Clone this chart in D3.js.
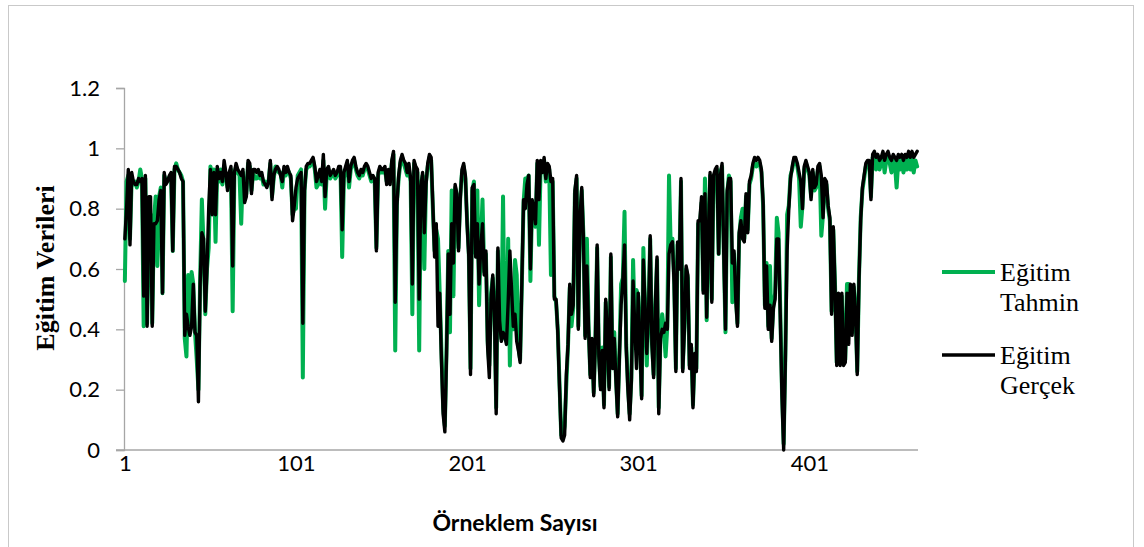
<!DOCTYPE html>
<html>
<head>
<meta charset="utf-8">
<script src="https://cdn.jsdelivr.net/npm/d3@7/dist/d3.min.js"></script>
<style>
  html, body { margin: 0; padding: 0; background: #fff; }
  svg { display: block; }
</style>
</head>
<body>
<svg id="chart" width="1144" height="547"></svg>
<script>
// Eğitim verileri: gerçek değerler ve model tahminleri (örnek 1..464)
const gercek = [
  0.70,0.80,0.93,0.68,0.92,0.89,0.88,0.88,0.90,0.89,
  0.90,0.51,0.91,0.41,0.84,0.84,0.41,0.75,0.75,0.76,
  0.83,0.86,0.52,0.92,0.88,0.89,0.91,0.92,0.66,0.94,
  0.94,0.93,0.92,0.90,0.89,0.38,0.45,0.41,0.38,0.41,
  0.55,0.39,0.38,0.16,0.55,0.72,0.70,0.46,0.60,0.80,
  0.93,0.78,0.92,0.78,0.94,0.90,0.92,0.89,0.96,0.92,
  0.86,0.92,0.94,0.61,0.92,0.95,0.93,0.92,0.91,0.93,
  0.82,0.84,0.96,0.95,0.85,
  0.93,0.93,0.92,0.93,0.91,0.92,0.89,0.88,0.87,0.89,
  0.96,0.83,0.91,0.93,0.94,0.93,0.91,0.89,0.94,0.92,
  0.94,0.92,0.91,0.76,0.81,0.87,0.90,0.91,0.92,0.42,
  0.86,0.94,0.95,0.95,0.96,0.97,0.94,0.89,0.91,0.93,
  0.89,0.98,0.84,0.93,0.94,0.91,0.92,0.93,0.91,0.92,
  0.94,0.94,0.73,0.92,0.94,0.96,0.89,0.94,0.96,0.97,
  0.94,0.92,0.91,0.93,0.92,0.94,0.95,0.94,0.92,0.90,
  0.91,0.90,0.66,0.92,0.94,0.93,0.93,
  0.94,0.88,0.93,0.88,0.96,0.99,0.49,0.81,0.91,0.96,
  0.98,0.96,0.95,0.92,0.95,0.90,0.55,0.96,0.94,0.93,
  0.50,0.87,0.92,0.72,0.88,0.95,0.98,0.97,0.81,0.64,
  0.75,0.41,0.52,0.30,0.12,0.06,0.32,0.65,0.45,0.75,
  0.62,0.88,0.85,0.66,0.83,0.93,0.95,0.91,0.75,0.64,
  0.25,0.87,0.88,0.64,0.75,0.55,0.67,0.75,0.58,0.66,
  0.34,0.24,0.50,0.58,0.45,0.12,0.67,0.43,0.36,0.39,
  0.38,0.35,0.49,0.66,0.53,0.41,0.45,0.36,
  0.33,0.29,0.56,0.83,0.80,0.88,0.91,0.60,0.83,0.80,
  0.75,0.96,0.83,0.96,0.92,0.97,0.90,0.95,0.94,0.89,
  0.90,0.50,0.50,0.39,0.21,0.04,0.03,0.05,0.25,0.35,
  0.55,0.45,0.48,0.86,0.91,0.40,0.77,0.87,0.70,0.37,
  0.61,0.40,0.24,0.37,0.18,0.37,0.68,0.31,0.20,0.33,
  0.14,0.50,0.38,0.20,0.65,0.27,0.37,0.23,0.11,0.31,
  0.48,0.56,0.68,0.34,0.20,0.10,0.23,0.56,0.41,0.27,
  0.52,0.35,0.17,0.63,0.48,
  0.32,0.45,0.71,0.35,0.24,0.48,0.64,0.12,0.37,0.40,
  0.39,0.42,0.40,0.65,0.68,0.69,0.55,0.26,0.69,0.60,
  0.90,0.26,0.40,0.61,0.58,0.27,0.35,0.14,0.32,0.26,
  0.76,0.76,0.84,0.52,0.85,0.44,0.72,0.92,0.49,0.91,
  0.93,0.94,0.65,0.91,0.95,0.65,0.40,0.86,0.90,0.90,
  0.62,0.66,0.50,0.41,0.72,0.76,0.70,0.69,0.85,0.72,
  0.89,0.91,0.95,0.97,0.96,0.97,0.96,0.93,0.82,0.47,
  0.61,0.40,0.48,0.36,0.47,0.50,0.70,0.70,0.45,
  0.18,0.00,0.30,0.66,0.80,0.90,0.94,0.97,0.97,0.95,
  0.92,0.89,0.80,0.94,0.96,0.94,0.92,0.83,0.93,0.87,
  0.88,0.94,0.95,0.91,0.77,0.90,0.89,0.81,0.77,0.45,
  0.74,0.54,0.28,0.52,0.28,0.52,0.28,0.29,0.52,0.35,
  0.55,0.38,0.55,0.45,0.25,0.56,0.76,0.87,0.91,0.95,
  0.96,0.96,0.83,0.98,0.99,0.97,0.98,0.96,0.97,0.99,
  0.96,0.98,0.99,0.97,0.96,0.98,0.97,0.96,0.98,0.97,
  0.98,0.96,0.98,0.97,0.99,0.97,0.99,0.97,0.98,0.99
];

const tahmin = [
  0.56,0.89,0.91,0.70,0.90,0.88,0.89,0.87,0.89,0.93,
  0.90,0.41,0.90,0.42,0.80,0.78,0.42,0.76,0.84,0.61,
  0.84,0.87,0.52,0.91,0.89,0.90,0.90,0.91,0.66,0.93,
  0.95,0.93,0.92,0.91,0.89,0.37,0.31,0.58,0.39,0.59,
  0.55,0.39,0.30,0.20,0.57,0.83,0.68,0.45,0.60,0.67,
  0.94,0.91,0.93,0.69,0.93,0.89,0.93,0.88,0.94,0.91,
  0.87,0.91,0.93,0.46,0.91,0.94,0.92,0.91,0.75,0.92,
  0.83,0.85,0.95,0.94,0.86,
  0.92,0.90,0.90,0.91,0.90,0.91,0.88,0.89,0.88,0.89,
  0.95,0.84,0.90,0.94,0.93,0.92,0.92,0.87,0.93,0.91,
  0.93,0.92,0.90,0.78,0.80,0.80,0.91,0.92,0.93,0.24,
  0.86,0.93,0.94,0.94,0.95,0.96,0.93,0.87,0.88,0.92,
  0.88,0.96,0.80,0.92,0.93,0.90,0.91,0.92,0.90,0.91,
  0.93,0.93,0.64,0.90,0.93,0.95,0.87,0.93,0.95,0.96,
  0.93,0.91,0.90,0.92,0.91,0.93,0.94,0.93,0.91,0.89,
  0.90,0.89,0.67,0.91,0.93,0.92,0.92,
  0.93,0.89,0.92,0.89,0.95,0.98,0.33,0.82,0.90,0.95,
  0.97,0.95,0.93,0.91,0.93,0.89,0.45,0.95,0.93,0.92,
  0.33,0.88,0.91,0.60,0.89,0.94,0.97,0.96,0.80,0.66,
  0.73,0.70,0.52,0.33,0.14,0.08,0.34,0.66,0.39,0.86,
  0.51,0.87,0.84,0.67,0.84,0.92,0.94,0.90,0.76,0.65,
  0.27,0.86,0.89,0.65,0.86,0.48,0.68,0.83,0.59,0.65,
  0.36,0.28,0.52,0.57,0.46,0.14,0.66,0.44,0.37,0.84,
  0.37,0.36,0.70,0.28,0.52,0.40,0.63,0.58,
  0.34,0.30,0.55,0.82,0.90,0.90,0.91,0.56,0.82,0.81,
  0.74,0.95,0.68,0.95,0.93,0.96,0.89,0.94,0.93,0.58,
  0.89,0.51,0.49,0.40,0.22,0.05,0.04,0.08,0.22,0.35,
  0.54,0.41,0.47,0.85,0.90,0.41,0.78,0.86,0.71,0.38,
  0.70,0.41,0.25,0.36,0.19,0.38,0.67,0.32,0.21,0.34,
  0.15,0.49,0.39,0.21,0.64,0.28,0.39,0.24,0.12,0.32,
  0.55,0.57,0.79,0.35,0.21,0.12,0.24,0.63,0.42,0.53,
  0.51,0.36,0.18,0.67,0.47,
  0.28,0.46,0.70,0.36,0.25,0.47,0.63,0.14,0.38,0.45,
  0.40,0.31,0.41,0.91,0.67,0.70,0.56,0.27,0.68,0.61,
  0.89,0.27,0.41,0.60,0.57,0.28,0.34,0.15,0.31,0.27,
  0.75,0.74,0.82,0.53,0.90,0.43,0.71,0.91,0.50,0.90,
  0.92,0.93,0.65,0.92,0.94,0.66,0.39,0.85,0.91,0.89,
  0.49,0.65,0.51,0.42,0.71,0.77,0.80,0.70,0.84,0.73,
  0.88,0.90,0.94,0.95,0.94,0.95,0.95,0.92,0.81,0.48,
  0.62,0.41,0.61,0.37,0.48,0.52,0.77,0.72,0.47,
  0.20,0.02,0.32,0.78,0.81,0.91,0.93,0.96,0.96,0.94,
  0.90,0.74,0.81,0.93,0.95,0.93,0.91,0.84,0.92,0.86,
  0.87,0.93,0.94,0.71,0.78,0.89,0.88,0.80,0.76,0.46,
  0.73,0.55,0.29,0.50,0.29,0.51,0.29,0.30,0.55,0.55,
  0.54,0.39,0.54,0.46,0.26,0.57,0.77,0.86,0.90,0.94,
  0.95,0.95,0.84,0.97,0.97,0.93,0.96,0.93,0.95,0.97,
  0.92,0.96,0.97,0.95,0.92,0.96,0.95,0.87,0.96,0.93,
  0.96,0.92,0.96,0.93,0.97,0.93,0.97,0.92,0.96,0.94
];

// Örnek numaraları (kategori ekseni) ve eksen etiketleri
const samples = d3.range(1, gercek.length + 1);
const xTickLabels = [1, 101, 201, 301, 401];
const yTicks = [0, 0.2, 0.4, 0.6, 0.8, 1, 1.2];

const seriesColors = ["#00b050", "#000000"];

if (tahmin.length !== gercek.length) {
  throw new Error("series length mismatch: " + tahmin.length + " vs " + gercek.length);
}

const svg = d3.select("#chart");
const plot = { left: 124, right: 918, top: 88, bottom: 450 };

// Dış çerçeve
svg.append("rect")
  .attr("x", 8.5).attr("y", 5.5)
  .attr("width", 1125).attr("height", 560)
  .attr("fill", "#fff")
  .attr("stroke", "#c9c9c9")
  .attr("stroke-width", 1);

const x = d3.scalePoint()
  .domain(samples)
  .range([plot.left, plot.right])
  .padding(0.5);

const y = d3.scaleLinear()
  .domain([0, 1.2])
  .range([plot.bottom, plot.top]);

const axisColor = "#a6a6a6";
const sansFont = "Lato, 'Open Sans', sans-serif";
const serifFont = "'Liberation Serif', 'DejaVu Serif', serif";

// Y ekseni
const yAxis = svg.append("g")
  .attr("transform", `translate(${plot.left},0)`)
  .call(d3.axisLeft(y).tickValues(yTicks).tickSize(8).tickPadding(16)
    .tickFormat(d => d3.format("")(Math.round(d * 10) / 10)));
yAxis.select(".domain").attr("stroke", axisColor).attr("stroke-width", 1.3);
yAxis.selectAll(".tick line").attr("stroke", axisColor).attr("stroke-width", 1.3);
yAxis.selectAll(".tick text")
  .attr("fill", "#000")
  .style("font-family", sansFont)
  .style("font-size", "22px");

// X ekseni (yalnızca çizgi ve seçilmiş etiketler)
const xAxis = svg.append("g")
  .attr("transform", `translate(0,${plot.bottom})`)
  .call(d3.axisBottom(x).tickValues(xTickLabels).tickSize(0).tickPadding(5));
xAxis.select(".domain").remove();
xAxis.append("line")
  .attr("x1", plot.left - 8).attr("x2", plot.right)
  .attr("y1", 0).attr("y2", 0)
  .attr("stroke", axisColor).attr("stroke-width", 1.3);
xAxis.selectAll(".tick text")
  .attr("fill", "#000")
  .style("font-family", sansFont)
  .style("font-size", "22px");

// Çizgiler: önce tahmin (yeşil), üstüne gerçek (siyah)
const line = d3.line()
  .x((d, i) => x(samples[i]))
  .y(d => y(d));

svg.append("path")
  .datum(tahmin)
  .attr("fill", "none")
  .attr("stroke", seriesColors[0])
  .attr("stroke-width", 4)
  .attr("stroke-linejoin", "round")
  .attr("stroke-linecap", "round")
  .attr("d", line);

svg.append("path")
  .datum(gercek)
  .attr("fill", "none")
  .attr("stroke", seriesColors[1])
  .attr("stroke-width", 3.4)
  .attr("stroke-linejoin", "round")
  .attr("stroke-linecap", "round")
  .attr("d", line);

// Eksen başlıkları
svg.append("text")
  .attr("x", 515).attr("y", 531)
  .attr("text-anchor", "middle")
  .style("font-family", sansFont)
  .style("font-weight", "bold")
  .style("font-size", "23px")
  .text("Örneklem Sayısı");

svg.append("text")
  .attr("transform", "translate(54,268) rotate(-90)")
  .attr("text-anchor", "middle")
  .style("font-family", serifFont)
  .style("font-weight", "bold")
  .style("font-size", "26px")
  .text("Eğitim Verileri");

// Açıklama
const legendItems = [
  { lines: ["Eğitim", "Tahmin"], color: seriesColors[0], width: 4, y: 272 },
  { lines: ["Eğitim", "Gerçek"], color: seriesColors[1], width: 3.4, y: 355 }
];
const legend = svg.append("g");
legendItems.forEach(item => {
  legend.append("line")
    .attr("x1", 942).attr("x2", 995)
    .attr("y1", item.y).attr("y2", item.y)
    .attr("stroke", item.color)
    .attr("stroke-width", item.width);
  const t = legend.append("text")
    .attr("x", 1000).attr("y", item.y + 9)
    .style("font-family", serifFont)
    .style("font-size", "26px")
    .attr("fill", "#000");
  item.lines.forEach((s, j) => {
    t.append("tspan").attr("x", 1000).attr("dy", j === 0 ? 0 : 30).text(s);
  });
});
</script>
</body>
</html>
